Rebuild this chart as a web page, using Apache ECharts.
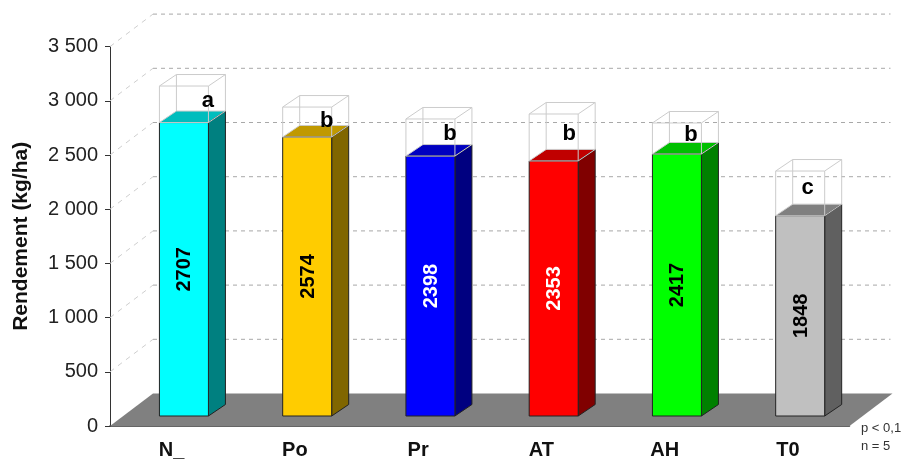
<!DOCTYPE html>
<html>
<head>
<meta charset="utf-8">
<style>html,body{margin:0;padding:0;background:#fff}#chart{width:904px;height:461px}</style>
<script src="https://cdn.jsdelivr.net/npm/echarts@6/dist/echarts.min.js"></script>
</head>
<body>
<div id="chart"></div>
<script>
// Rendement par traitement
const categories = ['N_', 'Po', 'Pr', 'AT', 'AH', 'T0'];
const yields = [2707, 2574, 2398, 2353, 2417, 1848];
const upperBounds = [3044, 2850, 2740, 2786, 2703, 2260];
const groups = ['a', 'b', 'b', 'b', 'b', 'c'];
const groupLevels = [2905, 2721, 2601, 2601, 2591, 2103];
const yTicks = [500, 1000, 1500, 2000, 2500, 3000, 3500];

// Couleurs des faces : avant, dessus, côté, texte de la valeur
const faces = [
  ['#00FFFF', '#00BDBD', '#008080', '#000'],
  ['#FFCC00', '#C09900', '#806600', '#000'],
  ['#0000FF', '#0000C0', '#000080', '#fff'],
  ['#FF0000', '#C00000', '#800000', '#fff'],
  ['#00FF00', '#00C000', '#008000', '#000'],
  ['#C0C0C0', '#808080', '#606060', '#000']
];

// Décalages de la pseudo-perspective, en pixels
const FLOOR_DX = 43, FLOOR_DY = 32.5;
const BAR_SHIFT_X = 12.3, BAR_LIFT = 10;
const BAR_WIDTH = 49, SIDE_DX = 17, SIDE_DY = 11.5;
const GROUP_SHIFT = [24, 19.5, 19.5, 15.5, 14, 7.5];
const FONT = '"Liberation Sans", Arial, sans-serif';

const poly = (points, fill, stroke) => ({
  type: 'polygon',
  shape: { points },
  style: { fill, stroke: stroke || null, lineWidth: stroke ? 1 : 0 }
});
const line = (a, b, stroke, dash) => ({
  type: 'line',
  shape: { x1: a[0], y1: a[1], x2: b[0], y2: b[1] },
  style: { stroke, lineWidth: 1, lineDash: dash || null, fill: null }
});

function renderFloor(params, api) {
  const band = api.size([1, 0])[0];
  const o = api.coord([0, 0]);
  const x0 = o[0] - band / 2, x1 = x0 + band * categories.length, y = o[1];
  return poly([[x0, y], [x1, y], [x1 + FLOOR_DX, y - FLOOR_DY], [x0 + FLOOR_DX, y - FLOOR_DY]], '#808080');
}

function renderWall(params, api) {
  const band = api.size([1, 0])[0];
  const o = api.coord([0, api.value(1)]);
  const x0 = o[0] - band / 2, x1 = x0 + band * categories.length, y = o[1];
  const corner = [x0 + FLOOR_DX, y - FLOOR_DY];
  return {
    type: 'group',
    children: [
      line([x0, y], corner, '#cfcfcf', [5, 5]),
      line(corner, [x1 + FLOOR_DX - 2, y - FLOOR_DY], '#a8a8a8', [4, 4])
    ]
  };
}

function renderBar(params, api) {
  const i = params.dataIndex;
  const c = api.coord([i, api.value(1)]);
  const base = api.coord([i, 0]);
  const xl = c[0] + BAR_SHIFT_X - BAR_WIDTH / 2, xr = xl + BAR_WIDTH;
  const yt = c[1] - BAR_LIFT, yb = base[1] - BAR_LIFT;
  const [front, top, side, ink] = faces[i];
  const edge = '#222';
  const upY = api.coord([i, api.value(2)])[1] - BAR_LIFT;
  const grey = '#cccccc';
  const gy = api.coord([i, api.value(3)])[1] - BAR_LIFT;
  const cx = (xl + xr) / 2;
  const d = [SIDE_DX, -SIDE_DY];
  const back = (x, y) => [x + d[0], y + d[1]];
  return {
    type: 'group',
    children: [
      poly([[xl, yt], [xr, yt], back(xr, yt), back(xl, yt)], top),
      poly([[xr, yt], back(xr, yt), back(xr, yb), [xr, yb]], side, edge),
      poly([[xl, yt], [xr, yt], [xr, yb], [xl, yb]], front, edge),
      // Boîte filaire au-dessus de la barre
      line([xl, upY], [xr, upY], grey),
      line([xl, yt], [xr, yt], grey),
      line([xl, upY], [xl, yt], grey),
      line([xr, upY], [xr, yt], grey),
      line(back(xl, upY), back(xr, upY), grey),
      line(back(xl, yt), back(xr, yt), grey),
      line(back(xl, upY), back(xl, yt), grey),
      line(back(xr, upY), back(xr, yt), grey),
      line([xl, upY], back(xl, upY), grey),
      line([xr, upY], back(xr, upY), grey),
      line([xl, yt], back(xl, yt), grey),
      line([xr, yt], back(xr, yt), grey),
      {
        type: 'text',
        x: cx + 1,
        y: (yt + yb) / 2,
        rotation: Math.PI / 2,
        style: {
          text: String(yields[i]),
          fill: ink,
          font: 'bold 20px ' + FONT,
          align: 'center',
          verticalAlign: 'middle'
        }
      },
      {
        type: 'text',
        style: {
          x: cx + GROUP_SHIFT[i],
          y: gy,
          text: groups[i],
          fill: '#000',
          font: 'bold 22px ' + FONT,
          align: 'center',
          verticalAlign: 'middle'
        }
      }
    ]
  };
}

const chart = echarts.init(document.getElementById('chart'), null, { renderer: 'canvas' });
chart.setOption({
  animation: false,
  backgroundColor: '#fff',
  grid: { left: 110, right: 54.5, top: 46.6, bottom: 35, outerBoundsMode: 'none' },
  xAxis: {
    type: 'category',
    data: categories,
    axisLine: { lineStyle: { color: '#333', width: 1.5 } },
    axisTick: { length: 5, lineStyle: { color: '#333' } },
    axisLabel: {
      color: '#111',
      fontFamily: FONT,
      fontWeight: 'bold',
      fontSize: 20,
      margin: 14,
      interval: 0
    }
  },
  yAxis: {
    type: 'value',
    min: 0,
    max: 3500,
    interval: 500,
    name: 'Rendement (kg/ha)',
    nameLocation: 'middle',
    nameGap: 78,
    nameTextStyle: { color: '#111', fontFamily: FONT, fontWeight: 'bold', fontSize: 21 },
    axisLine: { show: true, lineStyle: { color: '#333', width: 1 } },
    axisTick: { show: true, length: 5, lineStyle: { color: '#333' } },
    splitLine: { show: false },
    axisLabel: {
      color: '#222',
      fontFamily: FONT,
      fontSize: 20,
      margin: 12,
      padding: [3, 0, 0, 0],
      formatter: v => String(v).replace(/\B(?=(\d{3})+$)/, ' ')
    }
  },
  graphic: [
    { type: 'text', left: 861, top: 422, style: { text: 'p < 0,1', fill: '#333', font: '13px ' + FONT } },
    { type: 'text', left: 861, top: 440, style: { text: 'n = 5', fill: '#333', font: '13px ' + FONT } }
  ],
  series: [
    { type: 'custom', silent: true, renderItem: renderFloor, data: [[0, 0]], encode: { x: 0, y: 1 } },
    { type: 'custom', silent: true, renderItem: renderWall, data: yTicks.map(v => [0, v]), encode: { x: 0, y: 1 } },
    {
      type: 'custom',
      silent: true,
      renderItem: renderBar,
      data: categories.map((c, i) => [i, yields[i], upperBounds[i], groupLevels[i]]),
      encode: { x: 0, y: 1 }
    }
  ]
});
</script>
</body>
</html>
